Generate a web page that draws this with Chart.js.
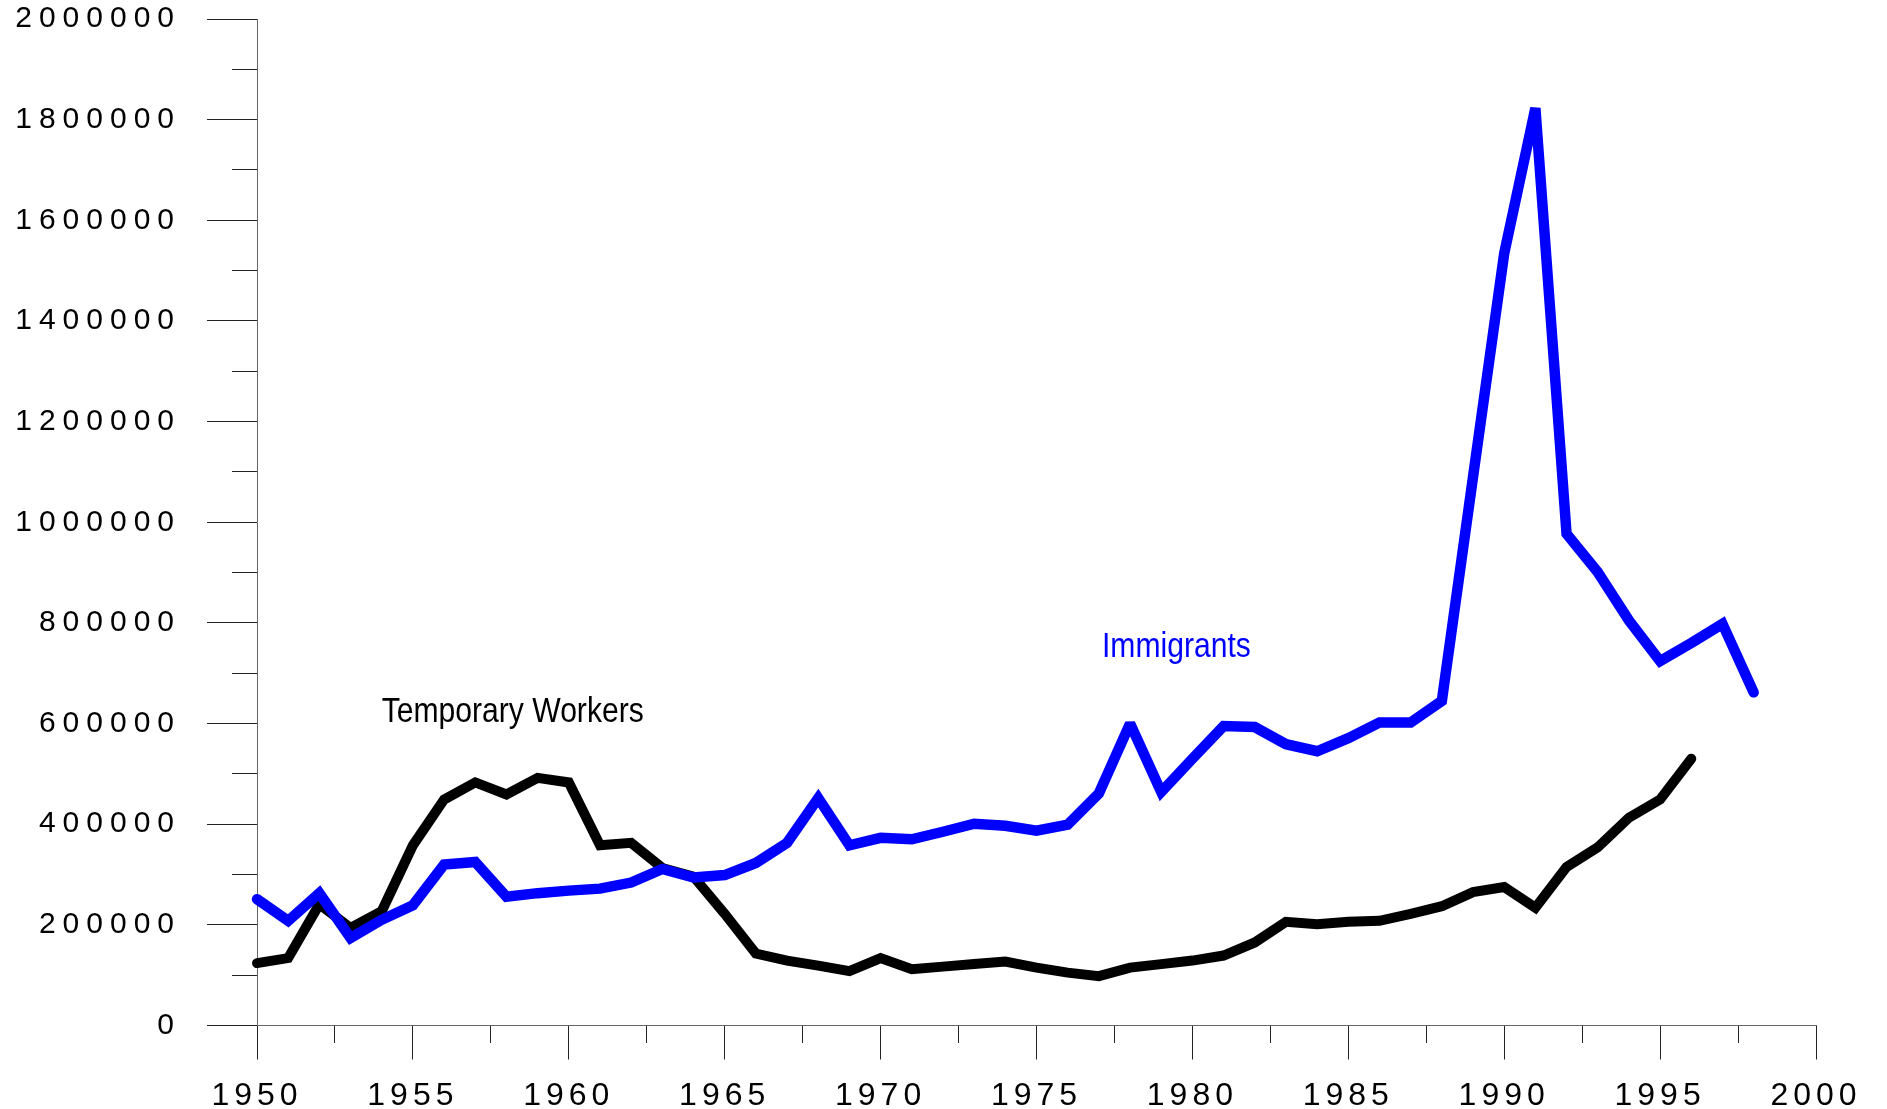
<!DOCTYPE html>
<html lang="en">
<head>
<meta charset="UTF-8">
<title>Immigrants and Temporary Workers</title>
<style>
body { margin:0; padding:0; background:#fff; }
#wrap { width:1887px; height:1109px; }
</style>
</head>
<body>
<div id="wrap"><canvas id="chart" width="1887" height="1109"></canvas></div>

<script src="https://cdn.jsdelivr.net/npm/chart.js"></script>
<script>
// data
const years = [1950,1951,1952,1953,1954,1955,1956,1957,1958,1959,
               1960,1961,1962,1963,1964,1965,1966,1967,1968,1969,
               1970,1971,1972,1973,1974,1975,1976,1977,1978,1979,
               1980,1981,1982,1983,1984,1985,1986,1987,1988,1989,
               1990,1991,1992,1993,1994,1995,1996,1997,1998];

const immigrants = [251000,208000,263000,174000,210000,239000,320000,325000,256000,263000,
                    268000,272000,284000,311000,294000,299000,323000,363000,452000,358000,
                    373000,370000,385000,401000,397000,387000,399000,461000,600000,464000,
                    530000,595000,593000,559000,545000,571000,602000,602000,645000,1090000,
                    1534000,1823000,977000,901000,805000,724000,760000,798000,662000];

// 1950 - 1996
const tempWorkers = [124000,134000,241000,194000,227000,358000,449000,483000,459000,492000,
                     483000,358000,363000,313000,296000,222000,143000,129000,119000,108000,
                     134000,112000,117000,122000,127000,115000,105000,98000,115000,122000,
                     129000,139000,165000,206000,201000,206000,208000,222000,237000,265000,
                     275000,234000,315000,354000,413000,449000,530000];

const seriesNames = ['Immigrants', 'Temporary Workers'];

// text labels placed in data units
const seriesLabels = [
  { text: 'Immigrants', x: 1977.1, y: 732000, color: '#0000ff' },
  { text: 'Temporary Workers', x: 1954.0, y: 603000, color: '#000000' }
];

const tickFont = '"Liberation Sans", Arial, sans-serif';

function fontInstalled(name) {
  const c = document.createElement('canvas').getContext('2d');
  c.font = '40px monospace';
  const a = c.measureText('Temporary Workers').width;
  c.font = '40px "' + name + '", monospace';
  return c.measureText('Temporary Workers').width !== a;
}
const hasNarrow = fontInstalled('Liberation Sans Narrow');

function toPoints(vals) {
  return vals.map((v, i) => ({ x: years[i], y: v }));
}

// the picture uses wide digits; spread them out
const spacingPlugin = {
  id: 'spacing',
  beforeDraw(chart) { chart.ctx.letterSpacing = '7px'; },   // y labels
  beforeDatasetsDraw(chart) {
    chart.ctx.letterSpacing = '0px';
    chart.ctx.miterLimit = 2;
  },
  afterDatasetsDraw(chart) {
    const ctx = chart.ctx;
    const xs = chart.scales.x, ys = chart.scales.y;
    ctx.save();
    ctx.letterSpacing = '0px';
    ctx.font = '35px ' + (hasNarrow ? '"Liberation Sans Narrow"' : '"Liberation Sans"') + ', sans-serif';
    ctx.textAlign = 'left';
    ctx.textBaseline = 'alphabetic';
    seriesLabels.forEach(l => {
      const px = xs.getPixelForValue(l.x);
      const py = ys.getPixelForValue(l.y);
      ctx.save();
      ctx.translate(px, py);
      if (!hasNarrow) ctx.scale(0.86, 1);
      ctx.fillStyle = l.color;
      ctx.fillText(l.text, 0, 0);
      ctx.restore();
    });
    ctx.restore();
    ctx.letterSpacing = '5px';   // x labels, drawn after datasets
  },
  afterDraw(chart) { chart.ctx.letterSpacing = '0px'; chart.ctx.miterLimit = 10; }
};

new Chart(document.getElementById('chart'), {
  type: 'line',
  data: {
    datasets: [
      { label: seriesNames[0], data: toPoints(immigrants), borderColor: '#0000ff',
        borderWidth: 10.5, pointRadius: 0, tension: 0, fill: false, clip: false,
        borderJoinStyle: 'miter', borderCapStyle: 'round' },
      { label: seriesNames[1], data: toPoints(tempWorkers), borderColor: '#000000',
        borderWidth: 10, pointRadius: 0, tension: 0, fill: false, clip: false,
        borderJoinStyle: 'miter', borderCapStyle: 'round' }
    ]
  },
  options: {
    responsive: false,
    animation: false,
    devicePixelRatio: 1,
    layout: { padding: { top: 19, right: 71, bottom: 0, left: 0 } },
    plugins: { legend: { display: false }, tooltip: { enabled: false } },
    scales: {
      x: {
        type: 'linear', position: 'bottom', min: 1950, max: 2000,
        ticks: { stepSize: 5, callback: v => String(v), color: '#000', padding: 17, z: 1,
                 maxRotation: 0, autoSkip: false, font: { family: tickFont, size: 32 } },
        grid: { drawOnChartArea: false, tickLength: 34, tickColor: '#222', tickWidth: 1 },
        border: { color: '#666', width: 1 },
        afterFit: s => { s.height = 83.5; s.paddingLeft = 0; s.paddingRight = 0; }
      },
      y: {
        type: 'linear', position: 'left', min: 0, max: 2000000,
        ticks: { stepSize: 200000, callback: v => String(v), color: '#000', padding: 26,
                 font: { family: tickFont, size: 30 } },
        grid: { drawOnChartArea: false, tickLength: 50, tickColor: '#222', tickWidth: 1 },
        border: { color: '#666', width: 1 },
        afterFit: s => { s.width = 257; s.paddingTop = 0; s.paddingBottom = 0; }
      },
      // short minor ticks
      xMinor: {
        type: 'linear', position: { y: 0 }, min: 1950, max: 2000,
        ticks: { stepSize: 2.5, display: false },
        grid: { drawOnChartArea: false, tickLength: 17, tickColor: '#222', tickWidth: 1 },
        border: { display: false }
      },
      yMinor: {
        type: 'linear', position: { x: 1950 }, min: 0, max: 2000000,
        ticks: { stepSize: 100000, display: false },
        grid: { drawOnChartArea: false, tickLength: 25, tickColor: '#222', tickWidth: 1 },
        border: { display: false }
      }
    }
  },
  plugins: [spacingPlugin]
});
</script>
</body>
</html>
